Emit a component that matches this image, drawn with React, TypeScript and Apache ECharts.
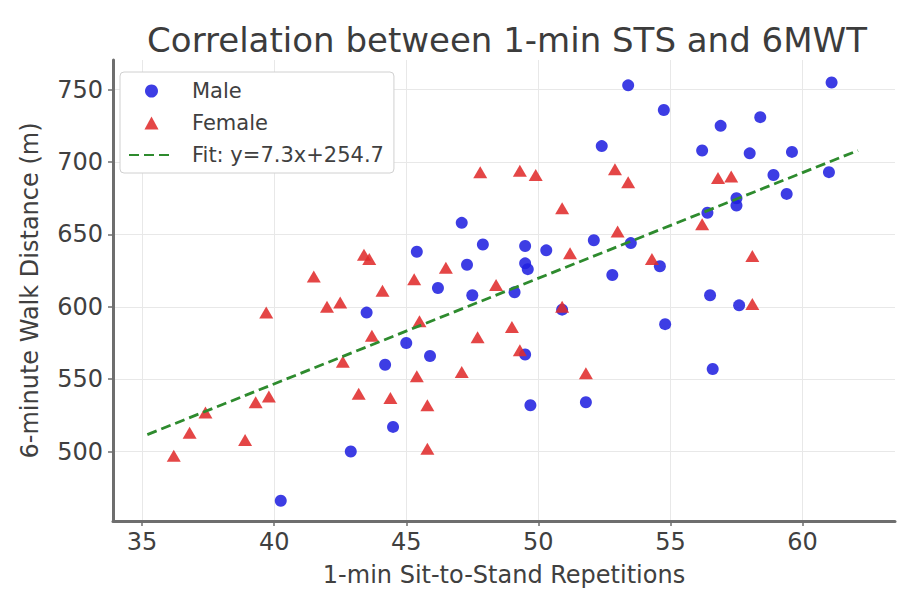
import React, { useEffect, useRef } from "react";
import * as echarts from "echarts";

const maleX = [53.4, 54.75, 52.4, 47.1, 47.9, 45.4, 49.5, 50.3, 52.1, 53.5, 47.3, 49.5, 49.6, 46.2, 52.8, 54.6, 47.5, 49.1, 61.1, 56.9, 58.4, 56.2, 58.0, 59.6, 58.9, 61.0, 59.4, 57.5, 57.5, 56.4, 56.5, 57.6, 54.8, 56.6, 45.0, 44.2, 45.9, 49.5, 50.9, 49.7, 51.8, 44.5, 43.5, 42.9, 40.25];
const maleY = [753, 736, 711, 658, 643, 638, 642, 639, 646, 644, 629, 630, 626, 613, 622, 628, 608, 610, 755, 725, 731, 708, 706, 707, 691, 693, 678, 675, 670, 665, 608, 601, 588, 557, 575, 560, 566, 567, 598, 532, 534, 517, 596, 500, 466];

const femaleX = [47.8, 49.3, 49.9, 52.9, 53.4, 50.9, 53.0, 51.2, 46.5, 45.3, 54.3, 48.4, 44.1, 56.8, 57.3, 56.2, 58.1, 58.1, 50.9, 45.5, 49.0, 47.7, 49.3, 45.4, 47.1, 51.8, 44.4, 45.8, 45.8, 39.7, 42.0, 42.5, 43.7, 42.6, 43.2, 39.8, 39.3, 37.4, 36.8, 38.9, 36.2, 43.4, 43.6, 41.5];
const femaleY = [693, 694, 691, 695, 686, 668, 652, 637, 627, 619, 633, 615, 611, 689, 690, 657, 635, 602, 600, 590, 586, 579, 570, 552, 555, 554, 537, 532, 502, 596, 600, 603, 580, 562, 540, 538, 534, 527, 513, 508, 497, 636, 633, 621];

const fitX = [35.2, 62.1];
const fitY = [511.7, 708.0];

const xTicks = [35, 40, 45, 50, 55, 60];
const yTicks = [500, 550, 600, 650, 700, 750];

const seriesNames = ["Male", "Female", "Fit: y=7.3x+254.7"];

export default function App() {
  const ref = useRef<HTMLDivElement>(null);
  useEffect(() => {
    const chart = echarts.init(ref.current!, null, { renderer: "svg" });
    const font = "DejaVu Sans";
    const axisColor = "#6e6e6e";
    const textColor = "#404040";
    chart.setOption({
      animation: false,
      backgroundColor: "#ffffff",
      title: {
        text: "Correlation between 1-min STS and 6MWT",
        left: 502,
        top: 18,
        textAlign: "center",
        textStyle: { fontFamily: font, fontSize: 34, fontWeight: "normal", color: "#3c3c3c" },
      },
      legend: {
        orient: "vertical",
        left: 120,
        top: 72,
        padding: [8, 10, 7, 8],
        backgroundColor: "#ffffff",
        borderColor: "#d0d0d0",
        borderWidth: 1,
        borderRadius: 4,
        itemWidth: 45,
        itemHeight: 13,
        itemGap: 10,
        data: [
          { name: seriesNames[0], icon: "circle" },
          { name: seriesNames[1], icon: "path://M6.5,0 L13,12 L0,12 Z" },
          { name: seriesNames[2], itemStyle: { opacity: 0, borderWidth: 0 } },
        ],
        textStyle: { fontFamily: font, fontSize: 21, lineHeight: 22, color: textColor, padding: [0, 0, 0, 13] },
      },
      grid: { left: 113, right: 5, top: 60, bottom: 77, containLabel: false },
      xAxis: {
        type: "value",
        min: 33.9,
        max: 63.5,
        name: "1-min Sit-to-Stand Repetitions",
        nameLocation: "middle",
        nameGap: 42,
        nameTextStyle: { fontFamily: font, fontSize: 24, color: textColor },
        axisLine: { show: true, onZero: false, lineStyle: { color: axisColor, width: 3 } },
        axisTick: { show: true, length: 5, customValues: xTicks, lineStyle: { color: axisColor, width: 1.5 } },
        axisLabel: { customValues: xTicks, margin: 9, fontSize: 24, color: textColor, fontFamily: font },
        splitLine: { show: true, lineStyle: { color: "#e8e8e8", width: 1 } },
      },
      yAxis: {
        type: "value",
        min: 452,
        max: 770.5,
        name: "6-minute Walk Distance (m)",
        nameLocation: "middle",
        nameGap: 71,
        nameTextStyle: { fontFamily: font, fontSize: 24, color: textColor },
        axisLine: { show: true, onZero: false, lineStyle: { color: axisColor, width: 3 } },
        axisTick: { show: true, length: 5, customValues: yTicks, lineStyle: { color: axisColor, width: 1.5 } },
        axisLabel: { customValues: yTicks, margin: 10, fontSize: 24, color: textColor, fontFamily: font },
        splitLine: { show: true, lineStyle: { color: "#e8e8e8", width: 1 } },
      },
      series: [
        {
          name: seriesNames[0],
          type: "scatter",
          symbol: "circle",
          symbolSize: 12,
          itemStyle: { color: "#2020e0", opacity: 0.87 },
          data: maleX.map((x, i) => [x, maleY[i]]),
          z: 2,
        },
        {
          name: seriesNames[1],
          type: "scatter",
          symbol: "triangle",
          symbolSize: [14, 12],
          itemStyle: { color: "#e02a2a", opacity: 0.87 },
          data: femaleX.map((x, i) => [x, femaleY[i]]),
          z: 3,
        },
        {
          name: seriesNames[2],
          type: "line",
          symbol: "none",
          showSymbol: false,
          lineStyle: { color: "#2e8b2e", width: 2.8, type: [10, 5] },
          itemStyle: { color: "#2e8b2e" },
          data: fitX.map((x, i) => [x, fitY[i]]),
          z: 4,
        },
      ],
    });
    return () => chart.dispose();
  }, []);
  return (
    <div
      ref={ref}
      style={{ position: "absolute", left: 0, top: 0, width: 900, height: 598 }}
    />
  );
}
